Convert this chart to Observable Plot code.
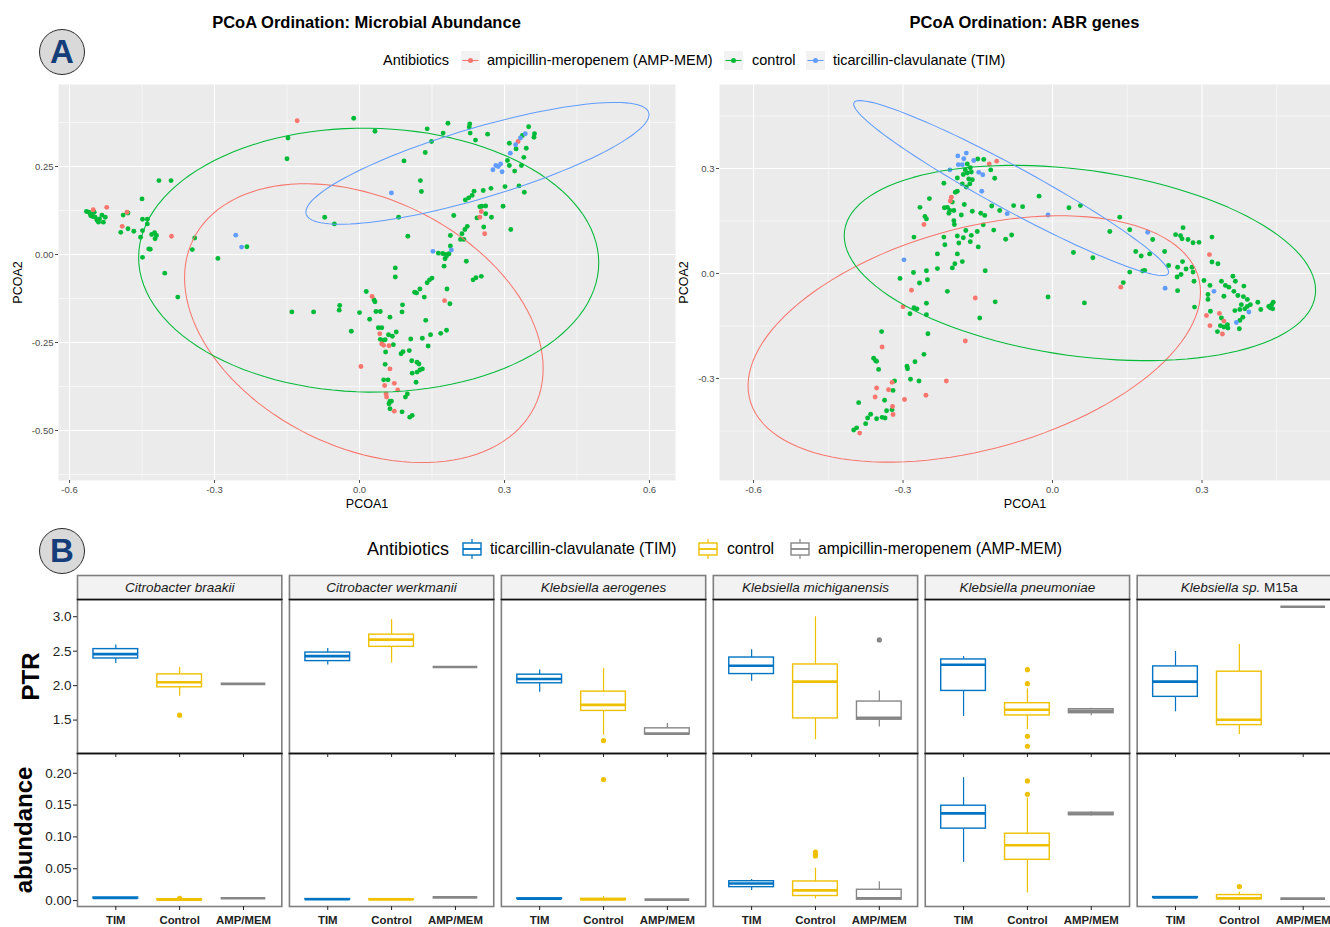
<!DOCTYPE html>
<html><head><meta charset="utf-8">
<script src="https://cdn.jsdelivr.net/npm/d3@7"></script>
<script src="https://cdn.jsdelivr.net/npm/@observablehq/plot@0.6"></script>
<style>
html,body{margin:0;padding:0;background:#fff;overflow:hidden;}
#root{position:relative;width:1330px;height:927px;overflow:hidden;background:#fff;font-family:"Liberation Sans",Arial,Helvetica,sans-serif;color:#000;}
#root > *{position:absolute;}
#root svg{max-width:none !important;}
.lbl{white-space:nowrap;}
</style></head>
<body><div id="root"></div>
<script>
// ---------------- DATA ----------------
const groupsA = ["AMP-MEM", "control", "TIM"];
const colorsA = ["#F8766D", "#00BA38", "#619CFF"];
const legendLabelsA = ["ampicillin-meropenem (AMP-MEM)", "control", "ticarcillin-clavulanate (TIM)"];
const titlesA = ["PCoA Ordination: Microbial Abundance", "PCoA Ordination: ABR genes"];

// PCoA of microbial abundance [PCOA1, PCOA2]
const microbeControl = [[-0.565,0.122],[-0.560,0.120],[-0.557,0.116],[-0.549,0.120],[-0.547,0.106],[-0.543,0.097],[-0.538,0.101],[-0.533,0.112],[-0.530,0.092],[-0.526,0.106],[-0.552,0.108],[-0.540,0.092],[-0.556,0.110],
[-0.494,0.063],[-0.489,0.112],[-0.479,0.118],[-0.479,0.073],[-0.467,0.066],[-0.450,0.158],[-0.449,0.100],[-0.439,0.100],[-0.439,0.087],[-0.449,0.068],[-0.453,0.049],[-0.449,-0.008],[-0.415,0.210],[-0.390,0.210],[-0.430,0.057],[-0.424,0.062],[-0.420,0.054],[-0.423,0.045],[-0.436,0.016],[-0.433,0.015],[-0.403,-0.053],[-0.376,-0.121],[-0.341,0.047],[-0.346,0.014],[-0.293,-0.011],[-0.233,0.022],[-0.012,0.387],[-0.148,0.331],[-0.150,0.272],[-0.072,0.106],[-0.052,0.087],[0.014,-0.105],
[0.032,0.350],[0.140,0.357],[0.183,0.373],[0.173,0.345],[0.149,0.321],[0.136,0.290],[0.092,0.266],[0.228,0.371],[0.227,0.362],[0.229,0.345],[0.265,0.342],[0.240,0.325],[0.126,0.210],[0.128,0.179],[0.081,0.106],[0.100,0.052],
[0.350,0.363],[0.362,0.343],[0.361,0.333],[0.337,0.338],[0.310,0.316],[0.324,0.300],[0.345,0.302],[0.340,0.276],[0.306,0.267],[0.310,0.253],[0.321,0.237],[0.335,0.253],[0.301,0.193],[0.330,0.195],[0.341,0.177],[0.272,0.188],[0.256,0.182],[0.237,0.180],[0.233,0.168],[0.226,0.161],[0.219,0.155],[0.249,0.136],[0.253,0.137],[0.261,0.138],[0.297,0.137],[0.243,0.104],[0.261,0.116],[0.273,0.106],[0.195,0.111],[0.257,0.078],[0.313,0.071],[0.223,0.080],[0.218,0.071],[0.212,0.059],[0.209,0.043],[0.216,0.043],[0.188,0.054],[0.188,0.024],[0.185,0.002],[0.178,0.000],[0.177,-0.012],[0.163,0.004],[0.175,-0.033],[0.221,-0.019],[0.074,-0.038],[0.074,-0.064],[0.150,-0.067],[0.252,-0.062],[0.241,-0.066],
[0.172,0.003],[0.180,-0.004],[0.235,-0.072],[0.145,-0.072],[0.140,-0.080],[0.125,-0.098],[0.114,-0.107],[0.118,-0.109],[0.134,-0.121],[0.181,-0.098],[0.187,-0.140],[0.030,-0.129],[0.032,-0.134],[-0.041,-0.145],[-0.042,-0.158],[-0.140,-0.163],[-0.095,-0.163],[0.000,-0.165],[0.034,-0.162],[0.043,-0.162],[0.021,-0.184],[0.063,-0.178],[0.089,-0.143],[0.088,-0.163],[0.137,-0.187],[-0.017,-0.218],[0.039,-0.208],[0.046,-0.208],[0.060,-0.228],[0.068,-0.232],[0.076,-0.220],[0.043,-0.241],[0.048,-0.244],[0.053,-0.242],[0.070,-0.256],[0.054,-0.277],[0.106,-0.240],[0.130,-0.238],[0.147,-0.228],[0.168,-0.224],[0.180,-0.215],[0.142,-0.260],[0.086,-0.282],[0.090,-0.276],[0.103,-0.273],[0.053,-0.312],[0.108,-0.302],[0.119,-0.306],[0.123,-0.311],[0.130,-0.325],[0.125,-0.328],[0.119,-0.334],[0.109,-0.337],[0.117,-0.363],[0.050,-0.356],[0.059,-0.356],[0.099,-0.396],[0.095,-0.405],[0.063,-0.417],[0.066,-0.417],[0.061,-0.424],[0.063,-0.438],[0.088,-0.447],[0.104,-0.462],[0.109,-0.457]];
const microbeAmp = [[-0.551,0.127],[-0.523,0.134],[-0.491,0.080],[-0.481,0.120],[-0.389,0.052],[-0.129,0.380],[0.328,0.321],[0.252,0.122],[0.249,0.106],[0.259,0.059],[0.176,-0.131],[0.026,-0.119],[0.042,-0.225],[0.046,-0.254],[0.050,-0.258],[0.061,-0.259],[0.063,-0.325],[0.003,-0.318],[0.052,-0.372],[0.072,-0.366],[0.079,-0.385],[0.055,-0.396],[0.056,-0.405],[0.072,-0.445]];
const microbeTim = [[-0.256,0.055],[-0.244,0.021],[0.066,0.175],[0.343,0.343],[0.333,0.331],[0.323,0.312],[0.312,0.288],[0.282,0.253],[0.287,0.250],[0.292,0.257],[0.276,0.241],[0.295,0.235],[0.190,0.013],[0.152,0.009]];
// ellipse summaries: [group, centre x, centre y, sd-radius x, sd-radius y, correlation]
const microbeEllipses = [["AMP-MEM",0.009,-0.195,0.371,0.396,-0.326],["control",0.019,-0.016,0.476,0.375,-0.02],["TIM",0.244,0.259,0.355,0.173,0.80]];

// PCoA of ABR genes
const abrControl = [[-0.150,0.327],[-0.138,0.326],[-0.124,0.296],[-0.171,0.313],[-0.165,0.302],[-0.175,0.296],[-0.171,0.287],[-0.163,0.290],[-0.179,0.283],[-0.161,0.268],[-0.168,0.270],[-0.191,0.273],[-0.166,0.256],[-0.181,0.256],[-0.173,0.247],[-0.191,0.235],[-0.195,0.232],[-0.116,0.272],[-0.218,0.258],[-0.247,0.214],[-0.211,0.189],[-0.217,0.188],[-0.206,0.180],[-0.198,0.180],[-0.208,0.172],[-0.201,0.204],[-0.266,0.189],[-0.256,0.163],[-0.253,0.156],[-0.177,0.197],[-0.161,0.178],[-0.183,0.167],[-0.198,0.151],[-0.197,0.140],[-0.144,0.172],[-0.136,0.166],[-0.122,0.193],[-0.106,0.180],[-0.078,0.194],[-0.060,0.191],[-0.027,0.221],[0.033,0.188],[-0.139,0.139],[-0.174,0.123],[-0.151,0.120],[-0.118,0.124],[-0.163,0.109],[-0.191,0.107],[-0.179,0.102],[-0.218,0.104],[-0.278,0.104],[-0.094,0.098],[-0.082,0.110],[-0.165,0.091],[-0.188,0.087],[-0.216,0.082],[-0.149,0.076],[-0.231,0.056],[-0.191,0.056],[-0.181,0.034],[-0.196,0.028],[-0.201,0.016],[-0.231,0.014],[-0.135,0.008],[-0.279,0.003],[-0.253,0.008],[-0.306,-0.014],[-0.251,-0.018],[-0.267,-0.027],[-0.211,-0.051],[-0.115,-0.081],[-0.009,-0.067],[-0.253,-0.085],[-0.278,-0.098],[-0.272,-0.101],[-0.286,-0.115],[-0.253,-0.118],[-0.146,-0.127],
[0.064,-0.084],[-0.250,-0.172],[-0.343,-0.166],[-0.359,-0.242],[-0.355,-0.249],[-0.353,-0.251],[-0.349,-0.274],[-0.292,-0.265],[-0.291,-0.272],[-0.276,-0.252],[-0.258,-0.231],[-0.285,-0.302],[-0.268,-0.307],[-0.317,-0.307],[-0.320,-0.334],[-0.337,-0.362],[-0.389,-0.369],[-0.333,-0.392],[-0.322,-0.389],[-0.365,-0.402],[-0.371,-0.413],[-0.353,-0.415],[-0.342,-0.411],[-0.336,-0.413],[-0.375,-0.429],[-0.393,-0.441],[-0.399,-0.447],
[0.056,0.194],[0.135,0.161],[0.115,0.120],[0.155,0.125],[0.201,0.097],[0.042,0.060],[0.081,0.045],[0.167,0.063],[0.178,0.050],[0.195,0.056],[0.225,0.063],[0.155,0.004],[0.181,0.007],[0.185,0.009],[0.142,-0.026],[0.262,0.131],[0.247,0.111],[0.257,0.108],[0.260,0.099],[0.272,0.097],[0.282,0.088],[0.294,0.089],[0.320,0.104],[0.320,0.033],[0.332,0.028],[0.233,0.023],[0.251,0.018],[0.261,0.034],[0.268,0.013],[0.280,0.018],[0.282,0.004],[0.250,-0.010],[0.258,-0.003],[0.284,-0.022],[0.304,-0.020],[0.251,-0.049],[0.316,-0.034],[0.312,-0.060],[0.312,-0.074],[0.339,-0.022],[0.347,-0.034],[0.354,-0.039],[0.362,-0.008],[0.367,-0.022],[0.344,-0.065],[0.384,-0.036],[0.364,-0.051],[0.372,-0.063],[0.383,-0.066],[0.391,-0.074],[0.397,-0.089],[0.379,-0.089],[0.412,-0.082],[0.418,-0.103],[0.434,-0.094],[0.437,-0.098],[0.440,-0.089],[0.443,-0.082],[0.442,-0.101],[0.366,-0.106],[0.376,-0.103],[0.386,-0.101],[0.391,-0.094],[0.382,-0.125],[0.376,-0.134],[0.375,-0.158],[0.285,-0.096],[0.317,-0.108],[0.339,-0.127],[0.337,-0.149],[0.344,-0.153],[0.351,-0.146],[0.352,-0.156],[0.331,-0.166]];
const abrAmp = [[-0.127,0.313],[-0.112,0.321],[-0.203,0.218],[-0.205,0.207],[-0.258,0.140],[-0.283,-0.048],[-0.155,-0.070],[-0.300,-0.095],[-0.175,-0.193],[-0.342,-0.210],[-0.213,-0.307],[-0.322,-0.311],[-0.353,-0.327],[-0.329,-0.332],[-0.356,-0.353],[-0.297,-0.360],[-0.254,-0.348],[-0.321,-0.380],[-0.320,-0.403],[-0.387,-0.456],[0.137,-0.039],[0.315,0.054],[0.309,-0.120],[0.335,-0.114],[0.344,-0.136],[0.316,-0.149],[0.341,-0.173]];
const abrTim = [[-0.190,0.336],[-0.173,0.344],[-0.178,0.328],[-0.189,0.311],[-0.181,0.311],[-0.206,0.296],[-0.158,0.323],[-0.148,0.289],[-0.140,0.282],[-0.142,0.235],[-0.091,0.171],[-0.009,0.167],[-0.298,0.039],[0.191,0.118],[0.226,-0.042],[0.324,-0.051],[0.394,-0.110],[0.369,-0.140]];
const abrEllipses = [["AMP-MEM",-0.157,-0.187,0.454,0.352,0.38],["control",0.055,0.030,0.473,0.279,-0.28],["TIM",-0.083,0.244,0.316,0.250,-0.96]];

const microbeXTicks = [-0.6,-0.3,0,0.3,0.6];
const microbeYTicks = [-0.5,-0.25,0,0.25];
const microbeXMinor = [-0.45,-0.15,0.15,0.45];
const microbeYMinor = [-0.625,-0.375,-0.125,0.125,0.375];
const abrXTicks = [-0.6,-0.3,0,0.3];
const abrYTicks = [-0.3,0,0.3];
const abrXMinor = [-0.45,-0.15,0.15,0.45];
const abrYMinor = [-0.45,-0.15,0.15,0.45];

// Panel B
const species = ["Citrobacter braakii","Citrobacter werkmanii","Klebsiella aerogenes","Klebsiella michiganensis","Klebsiella pneumoniae","Klebsiella sp. M15a"];
const treatments = ["TIM","Control","AMP/MEM"];
const treatColors = ["#0073C2","#EFC000","#868686"];
const legendLabelsB = ["ticarcillin-clavulanate (TIM)","control","ampicillin-meropenem (AMP-MEM)"];
// [species index, treatment index, lower whisker, q1, median, q3, upper whisker]
const ptrBoxes = [
 [0,0,2.32,2.394,2.457,2.53,2.59],[0,1,1.846,1.976,2.048,2.163,2.264],[0,2,2.025,2.025,2.025,2.025,2.025],
 [1,0,2.30,2.356,2.428,2.48,2.538],[1,1,2.327,2.563,2.668,2.74,2.957],[1,2,2.27,2.27,2.27,2.27,2.27],
 [2,0,1.904,2.034,2.097,2.159,2.226],[2,1,1.28,1.633,1.72,1.913,2.25],[2,2,1.293,1.293,1.303,1.38,1.452],
 [3,0,2.062,2.168,2.289,2.408,2.519],[3,1,1.216,1.524,2.058,2.307,3.0],[3,2,1.398,1.505,1.534,1.769,1.923],
 [4,0,1.553,1.923,2.303,2.38,2.423],[4,1,1.36,1.567,1.649,1.745,1.952],[4,2,1.563,1.60,1.635,1.658,1.673],
 [5,0,1.62,1.837,2.058,2.279,2.495],[5,1,1.289,1.427,1.505,2.202,2.596],[5,2,3.144,3.144,3.144,3.144,3.144]];
const ptrOutliers = [[0,1,1.571],[2,1,1.202],[3,2,2.664],[4,1,2.231],[4,1,2.029],[4,1,1.264],[4,1,1.12]];
const abundanceBoxes = [
 [0,0,0.0030,0.0032,0.0040,0.0048,0.0050],[0,1,0.0005,0.0010,0.0015,0.0020,0.0025],[0,2,0.0036,0.0036,0.0036,0.0036,0.0036],
 [1,0,0.0015,0.0017,0.0020,0.0024,0.0026],[1,1,0.0012,0.0015,0.0018,0.0022,0.0025],[1,2,0.0050,0.0050,0.0050,0.0050,0.0050],
 [2,0,0.0025,0.0027,0.0030,0.0033,0.0035],[2,1,0.0005,0.0010,0.0018,0.0028,0.0066],[2,2,0.0015,0.0015,0.0015,0.0015,0.0015],
 [3,0,0.016,0.0211,0.0268,0.0304,0.033],[3,1,0.0026,0.0072,0.016,0.030,0.051],[3,2,0.0015,0.0015,0.0036,0.017,0.0294],
 [4,0,0.060,0.113,0.137,0.149,0.193],[4,1,0.012,0.064,0.087,0.105,0.161],[4,2,0.133,0.134,0.1364,0.138,0.1395],
 [5,0,0.0040,0.0045,0.0050,0.0055,0.0060],[5,1,0.0010,0.0020,0.0036,0.0087,0.0130],[5,2,0.0030,0.0030,0.0030,0.0030,0.0030]];
const abundanceOutliers = [[0,1,0.0035],[2,1,0.190],[3,1,0.076],[3,1,0.072],[3,1,0.070],[4,1,0.188],[4,1,0.167],[5,1,0.022]];
const ptrTicks = [1.5,2,2.5,3];
const abundanceTicks = [0,0.05,0.1,0.15,0.2];
const ptrDomain = [1.015,3.25];
const abundanceDomain = [-0.0093,0.231];

// ---------------- BUILD ----------------
const FONT = '"Liberation Sans", Arial, Helvetica, sans-serif';
const root = document.getElementById("root");
function put(node, left, top, z) { node.style.left = left + "px"; node.style.top = top + "px"; if (z) node.style.zIndex = z; root.appendChild(node); return node; }
function textDiv(str, left, cy, css) {
  const d = document.createElement("div"); d.className = "lbl"; d.textContent = str;
  const h = 24; d.style.height = h + "px"; d.style.lineHeight = h + "px";
  Object.assign(d.style, css || {});
  return put(d, left, cy - h / 2);
}
function centeredText(str, cx, cy, css) {
  const d = textDiv(str, cx - 300, cy, css); d.style.width = "600px"; d.style.textAlign = "center"; return d;
}
function badge(letter, cx, cy) {
  const d = document.createElement("div"); const D = 46;
  Object.assign(d.style, {width: D + "px", height: D + "px", borderRadius: "50%", background: "#D9D9D9", border: "1.5px solid #2b2b2b", boxSizing: "border-box", textAlign: "center", lineHeight: (D - 2) + "px", fontSize: "33px", fontWeight: "bold", color: "#143D7A"});
  d.textContent = letter; put(d, cx - D / 2, cy - D / 2);
}

const pts = (arr, g) => arr.map(([x, y]) => ({x, y, g}));
function ellipsePath([g, cx, cy, rx, ry, rho]) {
  const s = Math.sqrt(1 - rho * rho);
  return d3.range(0, 121).map(i => { const t = i / 120 * 2 * Math.PI; return {g, x: cx + rx * Math.cos(t), y: cy + ry * (rho * Math.cos(t) + s * Math.sin(t))}; });
}
function styleLabels(svg, which, css) {
  svg.querySelectorAll(`[aria-label="${which}-axis label"] text`).forEach(t => Object.assign(t.style, css));
}
const baseStyle = {fontFamily: FONT, background: "transparent", overflow: "visible", maxWidth: "none"};

function scatter(o) {
  const data = [...pts(o.control, "control"), ...pts(o.amp, "AMP-MEM"), ...pts(o.tim, "TIM")];
  const ell = o.ellipses.flatMap(ellipsePath);
  const svg = Plot.plot({
    width: o.width, height: 440, marginLeft: o.ml, marginRight: o.mr, marginTop: 6, marginBottom: 38,
    style: baseStyle,
    x: {domain: o.xDomain}, y: {domain: o.yDomain},
    color: {domain: groupsA, range: colorsA},
    marks: [
      Plot.frame({fill: "#EBEBEB"}),
      Plot.gridX(o.xMinor, {stroke: "white", strokeOpacity: 1, strokeWidth: 0.55}),
      Plot.gridY(o.yMinor, {stroke: "white", strokeOpacity: 1, strokeWidth: 0.55}),
      Plot.gridX(o.xTicks, {stroke: "white", strokeOpacity: 1, strokeWidth: 1.1}),
      Plot.gridY(o.yTicks, {stroke: "white", strokeOpacity: 1, strokeWidth: 1.1}),
      Plot.dot(data, {x: "x", y: "y", fill: "g", r: 2.45}),
      Plot.line(ell, {x: "x", y: "y", z: "g", stroke: "g", strokeWidth: 1.05, clip: true}),
      Plot.axisX(o.xTicks, {tickFormat: d => d.toFixed(1), tickSize: 3, tickPadding: 3, fontSize: 9.5, color: "#4D4D4D", label: "PCOA1", labelAnchor: "center", labelArrow: "none", labelOffset: 27}),
      Plot.axisY(o.yTicks, {tickFormat: o.yFmt, tickSize: 3, tickPadding: 2, fontSize: 9.5, color: "#4D4D4D", label: "PCOA2", labelAnchor: "center", labelArrow: "none", labelOffset: o.ylOff})
    ]
  });
  styleLabels(svg, "x", {fontSize: "12.5px", fill: "#000"});
  styleLabels(svg, "y", {fontSize: "12.5px", fill: "#000"});
  return svg;
}

// Panel A
badge("A", 62, 51.5);
centeredText(titlesA[0], 366.5, 22, {fontSize: "16.5px", fontWeight: "bold"});
centeredText(titlesA[1], 1024.5, 22, {fontSize: "16.5px", fontWeight: "bold"});
textDiv("Antibiotics", 383, 60, {fontSize: "14.5px"});
const keyAX = [461, 724, 806], labAX = [487, 752, 833];
groupsA.forEach((g, i) => {
  const s = d3.create("svg").attr("width", 19).attr("height", 19);
  s.append("rect").attr("width", 19).attr("height", 19).attr("fill", "#F2F2F2");
  s.append("line").attr("x1", 1.5).attr("x2", 17.5).attr("y1", 9.5).attr("y2", 9.5).attr("stroke", colorsA[i]).attr("stroke-width", 1.1);
  s.append("circle").attr("cx", 9.5).attr("cy", 9.5).attr("r", 2.5).attr("fill", colorsA[i]);
  put(s.node(), keyAX[i], 50.5);
  textDiv(legendLabelsA[i], labAX[i], 60, {fontSize: "14.5px"});
});

put(scatter({control: microbeControl, amp: microbeAmp, tim: microbeTim, ellipses: microbeEllipses,
  width: 680, ml: 58, mr: 5, xDomain: [-0.6228, 0.6538], yDomain: [-0.642, 0.483],
  xTicks: microbeXTicks, yTicks: microbeYTicks, xMinor: microbeXMinor, yMinor: microbeYMinor,
  yFmt: d => d.toFixed(2), ylOff: 45}), 0, 78);
put(scatter({control: abrControl, amp: abrAmp, tim: abrTim, ellipses: abrEllipses,
  width: 665, ml: 54, mr: 0, xDomain: [-0.6683, 0.5579], yDomain: [-0.5914, 0.54],
  xTicks: abrXTicks, yTicks: abrYTicks, xMinor: abrXMinor, yMinor: abrYMinor,
  yFmt: d => d.toFixed(1), ylOff: 40}), 665, 78);

// Panel B
badge("B", 62, 550.5);
textDiv("Antibiotics", 367, 549, {fontSize: "18px"});
const keyBX = [461, 697, 789], labBX = [490, 727, 818];
treatColors.forEach((c, i) => {
  const s = d3.create("svg").attr("width", 22).attr("height", 22);
  s.append("line").attr("x1", 11).attr("x2", 11).attr("y1", 1).attr("y2", 21).attr("stroke", c).attr("stroke-width", 1.2);
  s.append("rect").attr("x", 2).attr("y", 5).attr("width", 18).attr("height", 12).attr("fill", "white").attr("stroke", c).attr("stroke-width", 1.4);
  s.append("line").attr("x1", 2).attr("x2", 20).attr("y1", 11).attr("y2", 11).attr("stroke", c).attr("stroke-width", 1.8);
  put(s.node(), keyBX[i], 538);
  textDiv(legendLabelsB[i], labBX[i], 549, {fontSize: "15.7px"});
});

const FX = {domain: species, paddingInner: 0.036, paddingOuter: 0, round: false, axis: null, label: null};
const toRows = arr => arr.map(r => ({sp: species[r[0]], t: r[1] + 1, tr: treatments[r[1]], lo: r[2], q1: r[3], med: r[4], q3: r[5], hi: r[6]}));
const toOut = arr => arr.map(r => ({sp: species[r[0]], t: r[1] + 1, tr: treatments[r[1]], v: r[2]}));

function boxRow(o) {
  const rows = toRows(o.boxes), outs = toOut(o.outliers);
  const svg = Plot.plot({
    width: 1345, height: o.height, marginLeft: 77, marginRight: 4, marginTop: 2, marginBottom: o.mb,
    style: baseStyle,
    fx: FX, x: {domain: [0.4, 3.6], axis: null}, y: {domain: o.domain, axis: null},
    color: {domain: treatments, range: treatColors},
    marks: [
      Plot.frame({stroke: "#7F7F7F", strokeWidth: 1.6}),
      Plot.ruleX(rows, {fx: "sp", x: "t", y1: "lo", y2: "q1", stroke: "tr", strokeWidth: 1.2}),
      Plot.ruleX(rows, {fx: "sp", x: "t", y1: "q3", y2: "hi", stroke: "tr", strokeWidth: 1.2}),
      Plot.rect(rows, {fx: "sp", x1: d => d.t - 0.35, x2: d => d.t + 0.35, y1: "q1", y2: "q3", fill: "white", stroke: "tr", strokeWidth: 1.4}),
      Plot.ruleY(rows, {fx: "sp", y: "med", x1: d => d.t - 0.35, x2: d => d.t + 0.35, stroke: "tr", strokeWidth: 2.6}),
      Plot.dot(outs, {fx: "sp", x: "t", y: "v", fill: "tr", r: 2.6}),
      o.bottomLine ? Plot.frame({anchor: "bottom", stroke: "#111", strokeWidth: 1.6}) : null,
      Plot.axisY(o.ticks, {tickFormat: o.fmt, tickSize: 4, tickPadding: 2, fontSize: 13.5, color: "#222", label: o.label, labelAnchor: "center", labelArrow: "none", labelOffset: o.lOff}),
      Plot.axisX([1, 2, 3], {tickFormat: o.xLabels ? (d => treatments[d - 1]) : (() => ""), tickSize: 4, tickPadding: 5, fontSize: 11.4, fontWeight: "bold", color: "#222", label: null})
    ]
  });
  styleLabels(svg, "y", {fontSize: "24px", fontWeight: "bold", fill: "#000"});
  return svg;
}

// abundance row (drawn first), PTR row, strips on top
put(boxRow({boxes: abundanceBoxes, outliers: abundanceOutliers, domain: abundanceDomain, ticks: abundanceTicks,
  fmt: d => d.toFixed(2), label: "abundance", lOff: 63, height: 178, mb: 23, xLabels: true, bottomLine: false}), 0, 751);
put(boxRow({boxes: ptrBoxes, outliers: ptrOutliers, domain: ptrDomain, ticks: ptrTicks,
  fmt: d => d.toFixed(1), label: "PTR", lOff: 56, height: 162, mb: 6, xLabels: false, bottomLine: true}), 0, 597);

const strip = Plot.plot({
  width: 1345, height: 28, marginLeft: 77, marginRight: 4, marginTop: 2, marginBottom: 2,
  style: baseStyle,
  fx: FX,
  marks: [
    Plot.frame({fill: "#F2F2F2", stroke: "#7F7F7F", strokeWidth: 1.6}),
    Plot.frame({anchor: "bottom", stroke: "#111", strokeWidth: 1.3}),
    Plot.text(species, {fx: d => d, text: d => d, frameAnchor: "middle", fontSize: 13.5, fontStyle: "italic", fill: "#1A1A1A"})
  ]
});
strip.querySelectorAll("text").forEach(t => {
  if (t.textContent === species[5]) {
    const parts = species[5].split(" ");
    t.textContent = "";
    const a = document.createElementNS("http://www.w3.org/2000/svg", "tspan"); a.textContent = parts.slice(0, 2).join(" ") + " "; a.setAttribute("font-style", "italic");
    const b = document.createElementNS("http://www.w3.org/2000/svg", "tspan"); b.textContent = parts.slice(2).join(" "); b.setAttribute("font-style", "normal");
    t.appendChild(a); t.appendChild(b);
  }
});
put(strip, 0, 573);
</script></body></html>
